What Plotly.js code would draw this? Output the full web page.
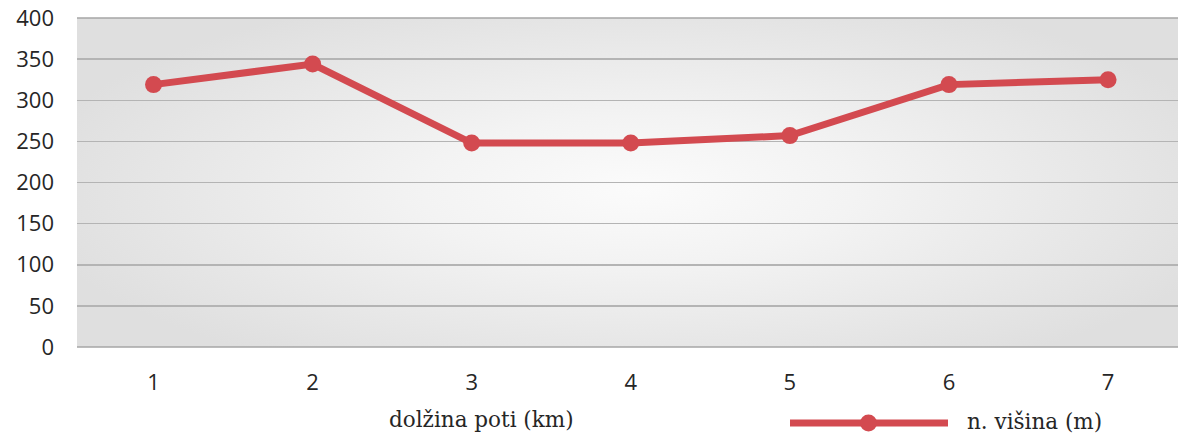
<!DOCTYPE html>
<html>
<head>
<meta charset="utf-8">
<script src="https://cdn.plot.ly/plotly-3.0.1.min.js"></script>
<style>
html,body{margin:0;padding:0;background:#fff;overflow:hidden;width:1178px;height:435px;}
#chart{width:1200px;height:435px;}
</style>
</head>
<body>
<div id="chart"></div>
<script>
// Data
const distanceKm = [1, 2, 3, 4, 5, 6, 7];
const elevationM = [319, 344, 248, 248, 257, 319, 325];
const yTicks = [0, 50, 100, 150, 200, 250, 300, 350, 400];
const xTitle = "dolžina poti (km)";
const seriesName = "n. višina (m)";

const lineColor = "#d34a50";

// radial gradient background for the plot area
function makeBg(w, h) {
  const c = document.createElement('canvas');
  c.width = w; c.height = h;
  const ctx = c.getContext('2d');
  ctx.fillStyle = '#e0e0e0';
  ctx.fillRect(0, 0, w, h);
  ctx.save();
  ctx.translate(w * 0.5, h * 0.52);
  ctx.scale(1, h / w * 1.15);
  const g = ctx.createRadialGradient(0, 0, 0, 0, 0, w * 0.55);
  g.addColorStop(0, '#fbfbfb');
  g.addColorStop(0.35, '#f3f3f3');
  g.addColorStop(1, '#dfdfdf');
  ctx.fillStyle = g;
  ctx.fillRect(-w, -w * 2, w * 2, w * 4);
  ctx.restore();
  return c.toDataURL('image/png');
}

const plotW = 1123, plotH = 329;

const trace = {
  x: distanceKm,
  y: elevationM,
  type: 'scatter',
  mode: 'lines+markers',
  name: seriesName,
  line: {color: lineColor, width: 7},
  marker: {color: lineColor, size: 17},
  showlegend: false,
  cliponaxis: false,
  hoverinfo: 'x+y'
};

const layout = {
  width: 1200,
  height: 435,
  margin: {l: 77, r: 0, t: 18, b: 88},
  paper_bgcolor: '#ffffff',
  plot_bgcolor: 'rgba(0,0,0,0)',
  font: {family: '"Open Sans", sans-serif', color: '#262626'},
  xaxis: {
    range: [0.519, 7.578],
    tickvals: distanceKm,
    ticktext: distanceKm.map(String),
    showgrid: false,
    zeroline: false,
    showline: false,
    ticks: '',
    tickfont: {size: 22, family: '"Open Sans", sans-serif', color: '#262626'},
    ticklabelstandoff: 20
  },
  yaxis: {
    range: [0, 400],
    tickvals: yTicks,
    ticktext: yTicks.map(String),
    showgrid: true,
    gridcolor: '#b4b4b4',
    gridwidth: 1.5,
    zeroline: false,
    showline: false,
    ticks: '',
    tickfont: {size: 22, family: '"Open Sans", sans-serif', color: '#262626'},
    ticklabelstandoff: 22
  },
  images: [{
    source: makeBg(plotW, plotH),
    xref: 'paper', yref: 'paper',
    x: 0, y: 1, sizex: 1, sizey: 1,
    xanchor: 'left', yanchor: 'top',
    sizing: 'stretch', layer: 'below'
  }],
  shapes: [
    {type: 'line', xref: 'paper', yref: 'paper', x0: 0, x1: 1, y0: 0, y1: 0,
     line: {color: '#a6a6a6', width: 1.5}},
    {type: 'line', xref: 'paper', yref: 'paper', x0: 0, x1: 1, y0: 1, y1: 1,
     line: {color: '#a6a6a6', width: 1.5}},
    // custom legend line
    {type: 'line', xref: 'paper', yref: 'paper',
     x0: (790 - 77) / plotW, x1: (948 - 77) / plotW,
     y0: -(423 - 347) / plotH, y1: -(423 - 347) / plotH,
     line: {color: lineColor, width: 7}},
    {type: 'circle', xref: 'paper', yref: 'paper',
     x0: (860 - 77) / plotW, x1: (877 - 77) / plotW,
     y0: -(431.5 - 347) / plotH, y1: -(414.5 - 347) / plotH,
     fillcolor: lineColor, line: {color: lineColor, width: 0}}
  ],
  annotations: [
    {text: xTitle, xref: 'paper', yref: 'paper',
     x: (481 - 77) / plotW, y: -(420 - 347) / plotH,
     xanchor: 'center', yanchor: 'middle', showarrow: false,
     font: {family: '"DejaVu Serif", serif', size: 21.5, color: '#262626'}},
    {text: seriesName, xref: 'paper', yref: 'paper',
     x: (965 - 77) / plotW, y: -(421 - 347) / plotH,
     xanchor: 'left', yanchor: 'middle', showarrow: false,
     font: {family: '"DejaVu Serif", serif', size: 21.5, color: '#262626'}}
  ]
};

Plotly.newPlot('chart', [trace], layout, {displayModeBar: false, staticPlot: true});
</script>
</body>
</html>
